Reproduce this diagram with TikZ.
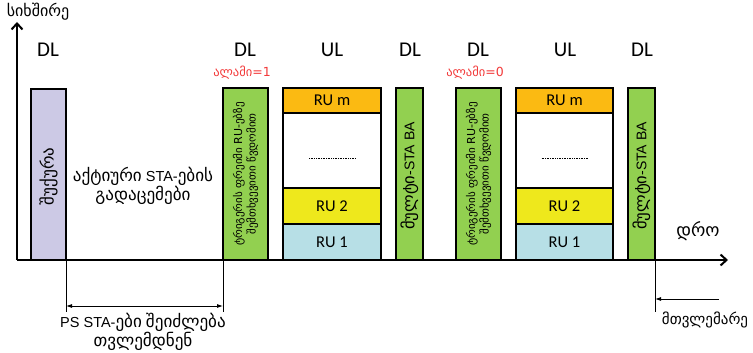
\documentclass[tikz,border=0pt]{standalone}
\usepackage{fontspec}
\setmainfont{Carlito}
\newfontfamily\arial{Liberation Sans}
\newfontfamily\kafont{DejaVu Sans}
\newfontfamily\kamix[Scale=1.18]{DejaVu Sans}
\newcommand\ka[1]{{\kamix #1}}
\usetikzlibrary{arrows.meta}
\definecolor{beaconfill}{HTML}{CCC9E5}
\definecolor{trigfill}{HTML}{92D050}
\definecolor{rumfill}{HTML}{FBBA12}
\definecolor{rutwofill}{HTML}{EEE81C}
\definecolor{ruonefill}{HTML}{B7DFE6}
\definecolor{flagred}{HTML}{F23A3A}

\begin{document}
\begin{tikzpicture}[x=1pt,y=-1pt,
  slot/.style={draw, line width=2pt, inner sep=0pt, outer sep=0pt, anchor=south west},
  vtext/.style={rotate=90, align=center, inner sep=0pt, font=\kafont\fontsize{11}{13.5}\selectfont},
  batext/.style={rotate=90, inner sep=0pt, font=\arial\fontsize{14}{16}\selectfont},
  dirlabel/.style={font=\fontsize{21}{24}\selectfont},
  rulabel/.style={font=\fontsize{16.5}{18}\selectfont},
  flag/.style={text=flagred, font=\kafont\fontsize{12.5}{14}\selectfont},
  axis/.style={line width=2pt, -{Straight Barb[length=6pt,width=11pt,line width=2pt]}},
  marker/.style={line width=0.8pt},
  span/.style={line width=0.8pt, {Latex[length=6pt,width=4pt]}-{Latex[length=6pt,width=4pt]}},
  note/.style={align=center, inner sep=0pt, font=\arial\fontsize{14.5}{15.5}\selectfont}]
\useasboundingbox (0,0) rectangle (753,353);

% axes
\coordinate (O) at (17,260);
\coordinate (ytop) at (17,22);
\coordinate (xend) at (728,260);

% beacon
\node[slot, fill=beaconfill, minimum width=35, minimum height=171] (beacon) at (31,260) {};
\node[vtext, font=\kafont\fontsize{17}{19}\selectfont] (beacon-t) at ([yshift=-2pt]beacon.center) {შუქურა};

% first cycle: trigger, resource units, multi-STA BA
\node[slot, fill=trigfill, minimum width=45, minimum height=172] (trigA) at (223,260) {};
\node[vtext] (trigA-t) at (trigA.center) {ტრიგერის ფრეიმი RU-ებზე\\შემთხვევითი წვდომით};

\node[slot, fill=ruonefill, minimum width=98, minimum height=36, rulabel] (ruA1) at (283,260) {RU 1};
\node[slot, fill=rutwofill, minimum width=98, minimum height=36, rulabel] (ruA2) at (ruA1.north west) {RU 2};
\node[slot, fill=white, minimum width=98, minimum height=75] (ruAw) at (ruA2.north west) {};
\node[slot, fill=rumfill, minimum width=98, minimum height=25, rulabel] (ruAm) at (ruAw.north west) {RU m};
\draw[densely dotted, line width=0.7pt] ([xshift=-23pt,yshift=-8pt]ruAw.center) -- ([xshift=23pt,yshift=-8pt]ruAw.center);

\node[slot, fill=trigfill, minimum width=27, minimum height=172] (baA) at (396,260) {};
\node[batext] (baA-t) at ([yshift=-2pt]baA.center) {\ka{მულტი}-STA BA};

% second cycle
\node[slot, fill=trigfill, minimum width=45, minimum height=172] (trigB) at (456,260) {};
\node[vtext] (trigB-t) at (trigB.center) {ტრიგერის ფრეიმი RU-ებზე\\შემთხვევითი წვდომით};

\node[slot, fill=ruonefill, minimum width=97, minimum height=36, rulabel] (ruB1) at (516,260) {RU 1};
\node[slot, fill=rutwofill, minimum width=97, minimum height=36, rulabel] (ruB2) at (ruB1.north west) {RU 2};
\node[slot, fill=white, minimum width=97, minimum height=75] (ruBw) at (ruB2.north west) {};
\node[slot, fill=rumfill, minimum width=97, minimum height=25, rulabel] (ruBm) at (ruBw.north west) {RU m};
\draw[densely dotted, line width=0.7pt] ([xshift=-23pt,yshift=-8pt]ruBw.center) -- ([xshift=23pt,yshift=-8pt]ruBw.center);

\node[slot, fill=trigfill, minimum width=27, minimum height=172] (baB) at (628,260) {};
\node[batext] (baB-t) at ([yshift=-2pt]baB.center) {\ka{მულტი}-STA BA};

% axes drawn on top of the slot bottoms
\draw[axis] (O) -- (ytop);
\draw[axis] (O) -- (xend);
\node[font=\kafont\fontsize{16}{18}\selectfont] (freq) at (38,12) {სიხშირე};
\node[font=\kafont\fontsize{18}{20}\selectfont] (time) at (698,231) {დრო};

% link directions
\node[dirlabel] (dl1) at (48,50) {DL};
\node[dirlabel] (dl2) at (245,50) {DL};
\node[dirlabel] (ul1) at (332,50) {UL};
\node[dirlabel] (dl3) at (410,50) {DL};
\node[dirlabel] (dl4) at (478,50) {DL};
\node[dirlabel] (ul2) at (565,50) {UL};
\node[dirlabel] (dl5) at (642,50) {DL};

% flags
\node[flag] (flag1) at (242,73) {ალამი=1};
\node[flag] (flag0) at (475,73) {ალამი=0};

% active transmissions
\node[note] (active) at (143,186) {\ka{აქტიური} STA-\ka{ების}\\\ka{გადაცემები}};

% doze interval
\coordinate (dzA) at (66,312);
\coordinate (dzB) at (223,312);
\draw[marker] (beacon.south east) -- (dzA);
\draw[marker] (trigA.south west) -- (dzB);
\draw[span] ([yshift=6pt]dzA) -- ([yshift=6pt]dzB);
\node[note] (doze) at (143,332) {PS STA-\ka{ები} \ka{შეიძლება}\\\ka{თვლემდნენ}};

% dozing from the end of the second cycle
\coordinate (dzC) at (655,312);
\coordinate (dzD) at (719,299);
\draw[marker] (baB.south east) -- (dzC);
\draw[line width=0.8pt, -{Latex[length=6pt,width=4pt]}] (dzD) -- (dzD -| dzC);
\node[font=\kafont\fontsize{15}{17}\selectfont] (dozing) at (705,320) {მთვლემარე};
\end{tikzpicture}
\end{document}
